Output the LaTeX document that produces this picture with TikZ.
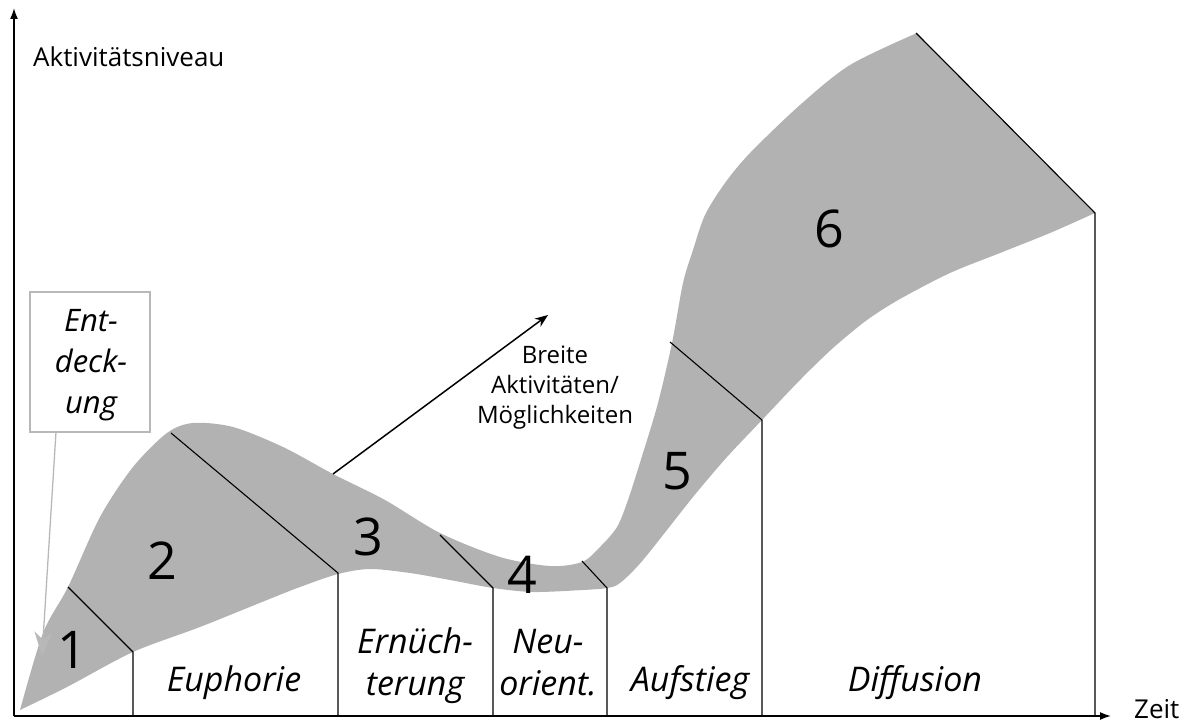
\documentclass[tikz,border=0pt]{standalone}
\usepackage{fontspec}
\setmainfont{Open Sans}
\usetikzlibrary{arrows.meta}
\begin{document}
\begin{tikzpicture}[x=1pt,y=-1pt,
  band/.style={fill=black!30},
  divider/.style={draw=black,line width=1.1pt},
  axis/.style={draw=black,line width=1.6pt,-{Latex[length=11pt,width=8pt]}},
  num/.style={font=\fontsize{52}{60}\selectfont,inner sep=0pt},
  phase/.style={font=\fontsize{34}{42}\selectfont\itshape,align=center,inner sep=0pt},
  plain/.style={font=\fontsize{26}{30}\selectfont,inner sep=0pt},
  callout/.style={draw=black!28,line width=1.5pt},
  calloutarrow/.style={draw=black!28,line width=1.3pt,-{Stealth[length=24pt,width=18pt,fill=black!28]}},
  pointer/.style={draw=black,line width=1.5pt,-{Stealth[length=13pt,width=10pt]}}
]
\useasboundingbox (0,0) rectangle (1191,722);

% grey band
\fill[band] plot[smooth,tension=0.5] coordinates {
  (20,710) (43,633) (68,587) (100,517) (133,467) (167,433) (193,423)
  (233,427) (283,447) (333,474) (385,500) (440,533) (500,557) (550,566)
  (582,562) (600,547) (617,527) (628,500) (643,453) (658,403) (672,343)
  (683,283) (693,250) (705,215) (725,183) (750,153) (800,105) (850,65) (917,33)}
  -- plot[smooth,tension=0.5] coordinates {
  (1095,213) (1050,233) (1000,253) (950,273) (900,299) (867,320) (833,348)
  (800,380) (762,420) (727,457) (693,497) (643,560) (620,583) (607,588) (583,590)
  (533,592) (493,588) (450,580) (410,573) (370,569) (338,574) (300,587)
  (267,600) (200,627) (133,652) (67,687) (20,710)} -- cycle;

% axes
\coordinate (O) at (14,716);
\coordinate (ytop) at (14,8);
\coordinate (xend) at (1111,716);
\draw[axis] (O) -- (ytop);
\draw[axis] (O) -- (xend);

% dividers
\coordinate (a1) at (68,587);   \coordinate (b1) at (133,652);  \coordinate (c1) at (133,716);
\coordinate (a2) at (171,433);  \coordinate (b2) at (338,573);  \coordinate (c2) at (338,716);
\coordinate (a3) at (440,535);  \coordinate (b3) at (493,588);  \coordinate (c3) at (493,716);
\coordinate (a4) at (582,561);  \coordinate (b4) at (607,588);  \coordinate (c4) at (607,716);
\coordinate (a5) at (670,342);  \coordinate (b5) at (762,420);  \coordinate (c5) at (762,716);
\coordinate (a6) at (916,33);   \coordinate (b6) at (1095,213); \coordinate (c6) at (1095,716);
\foreach \i in {1,...,6} {\draw[divider] (a\i) -- (b\i) -- (c\i);}

% labels
\node[plain,anchor=base west] (ylab) at (33,67) {Aktivitätsniveau};
\node[plain,anchor=base west] (xlab) at (1134,718) {Zeit};

\node[num] (n1) at (72,650) {1};
\node[num] (n2) at (162,561) {2};
\node[num] (n3) at (368,537) {3};
\node[num] (n4) at (522,575) {4};
\node[num] (n5) at (677,471) {5};
\node[num] (n6) at (829,229) {6};

\node[phase,anchor=base] (p2) at (234,691) {Euphorie};
\node[phase,anchor=base] (p3) at (415,695) {Ernüch-\\terung};
\node[phase,anchor=base] (p4) at (548,695) {Neu-\\orient.};
\node[phase,anchor=base] (p5) at (690,691) {Aufstieg};
\node[phase,anchor=base] (p6) at (915,691) {Diffusion};

% Entdeckung call-out
\draw[callout] (30,292) rectangle (150,432);
\node[font=\fontsize{31}{41}\selectfont\itshape,align=center,inner sep=0pt,anchor=base] (ent) at (91,413) {Ent-\\deck-\\ung};
\coordinate (boxfoot) at (56,432);
\coordinate (enttip) at (42,656);
\draw[calloutarrow] (boxfoot) -- (enttip);

% Breite arrow
\coordinate (bstart) at (333,474);
\coordinate (bend) at (548,315);
\draw[pointer] (bstart) -- (bend);
\node[font=\fontsize{24}{30}\selectfont,align=center,inner sep=0pt,anchor=base] (breite) at (555,423) {Breite\\Aktivitäten/\\Möglichkeiten};
\end{tikzpicture}
\end{document}
